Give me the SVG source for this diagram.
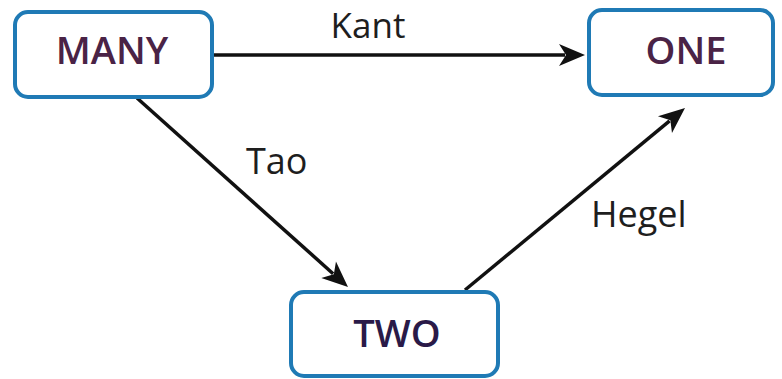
<svg xmlns="http://www.w3.org/2000/svg" width="782" height="379" viewBox="0 0 782 379">
  <style>
    .box { fill: #ffffff; stroke: #1f7ab5; stroke-width: 4; }
    .nlabel { font-family: "Open Sans", "Liberation Sans", sans-serif; font-weight: 600; font-size: 38px; text-anchor: middle; }
    .elabel { font-family: "Open Sans", "Liberation Sans", sans-serif; font-size: 36px; fill: #1e1e1e; }
    .edge { stroke: #111111; stroke-width: 3.5; fill: none; marker-end: url(#arrow); }
  </style>
  <defs>
    <marker id="arrow" markerUnits="userSpaceOnUse" markerWidth="40" markerHeight="30" refX="0" refY="0" orient="auto" overflow="visible">
      <path d="M 20 0 L -6 -11 L 1 0 L -6 11 Z" fill="#111111"/>
    </marker>
  </defs>
  <rect width="782" height="379" fill="#ffffff"/>
  <g id="connectors">
    <g id="edge-kant">
      <line class="edge" x1="212" y1="55" x2="565" y2="55"/>
      <text class="elabel" x="368" y="38" text-anchor="middle" style="font-size:35px">Kant</text>
    </g>
    <g id="edge-tao">
      <line class="edge" x1="137" y1="98" x2="333.1" y2="273.7"/>
      <text class="elabel" x="246" y="174">Tao</text>
    </g>
    <g id="edge-hegel">
      <line class="edge" x1="465" y1="290" x2="669.6" y2="120.8"/>
      <text class="elabel" x="591" y="227">Hegel</text>
    </g>
  </g>
  <g id="node-many">
    <rect class="box" x="15" y="12" width="197" height="85" rx="13"/>
    <text class="nlabel" x="112" y="64" fill="#4a2346">MANY</text>
  </g>
  <g id="node-one">
    <rect class="box" x="589" y="10" width="184" height="85" rx="13"/>
    <text class="nlabel" x="686" y="64" fill="#4a2346">ONE</text>
  </g>
  <g id="node-two">
    <rect class="box" x="291" y="292" width="207" height="84" rx="13"/>
    <text class="nlabel" x="397" y="347" fill="#2a1a48">TWO</text>
  </g>
</svg>
